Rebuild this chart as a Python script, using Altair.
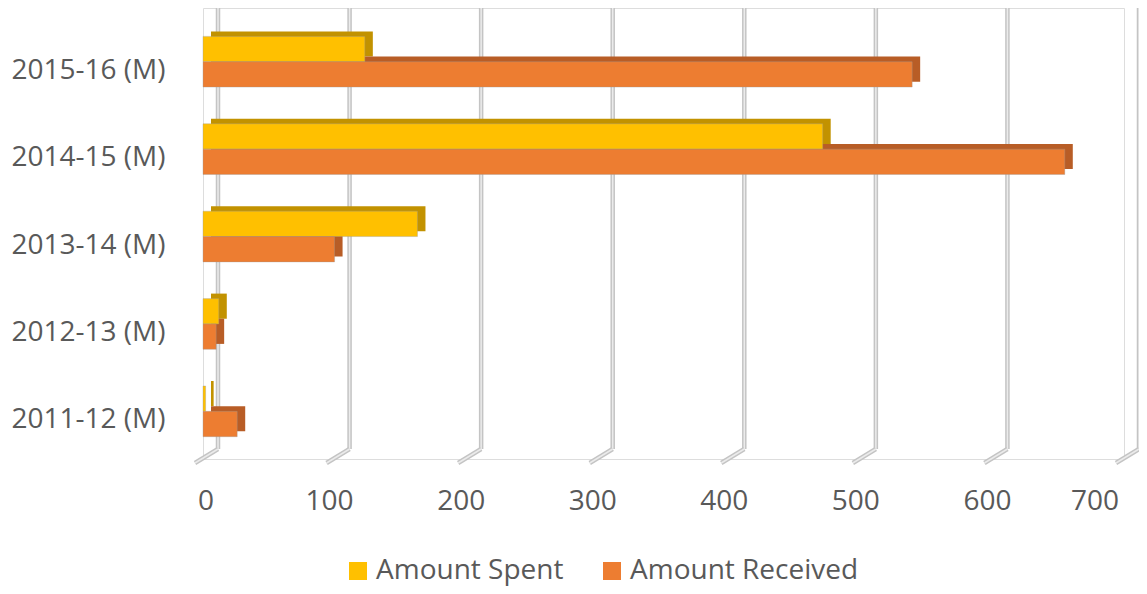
import altair as alt
import pandas as pd

categories = ["2015-16 (M)", "2014-15 (M)", "2013-14 (M)", "2012-13 (M)", "2011-12 (M)"]
spent = [123, 471, 163, 12, 2]
received = [539, 655, 100, 10, 26]
series_names = ["Amount Spent", "Amount Received"]
colors = ["#FFC000", "#ED7D31"]
dark_colors = ["#C29200", "#B85D26"]
x_ticks = [0, 100, 200, 300, 400, 500, 600, 700]

rows = []
for c, s, r in zip(categories, spent, received):
    rows.append({"cat": c, "series": series_names[0], "value": s})
    rows.append({"cat": c, "series": series_names[1], "value": r})
df = pd.DataFrame(rows)
ticks_df = pd.DataFrame({"tick": x_ticks})

FONT = "Open Sans"
GRAY = "#595959"

y_enc = alt.Y("cat:N", sort=categories, title=None,
              scale=alt.Scale(paddingInner=0.42, paddingOuter=0.29, align=0.56),
              axis=alt.Axis(labelFont=FONT, labelFontSize=28, labelColor=GRAY,
                            labelPadding=38, ticks=False, domain=False, grid=False,
                            labelOffset=9))
x_scale = alt.Scale(domain=[0, 700], nice=False)
x_enc = alt.X("value:Q", title=None, scale=x_scale,
              axis=alt.Axis(values=x_ticks, labelFont=FONT, labelFontSize=28,
                            labelColor=GRAY, ticks=False, domain=False, grid=False,
                            labelPadding=28, labelOffset=-5.5))

grid_outer = alt.Chart(ticks_df).mark_rule(color="#C4C4C4", strokeWidth=4.5, xOffset=15).encode(
    x=alt.X("tick:Q", scale=x_scale, title=None),
    y=alt.value(-8), y2=alt.value(441))
grid_inner = alt.Chart(ticks_df).mark_rule(color="#EBEBEB", strokeWidth=1.5, xOffset=15).encode(
    x=alt.X("tick:Q", scale=x_scale, title=None),
    y=alt.value(-8), y2=alt.value(441))
diag_outer = alt.Chart(ticks_df).mark_rule(color="#C4C4C4", strokeWidth=4.5, xOffset=15, x2Offset=-8).encode(
    x=alt.X("tick:Q", scale=x_scale, title=None), x2="tick:Q",
    y=alt.value(441), y2=alt.value(455))
diag_inner = alt.Chart(ticks_df).mark_rule(color="#EBEBEB", strokeWidth=1.5, xOffset=15, x2Offset=-8).encode(
    x=alt.X("tick:Q", scale=x_scale, title=None), x2="tick:Q",
    y=alt.value(441), y2=alt.value(455))

shadow = alt.Chart(df).mark_bar(strokeWidth=0, xOffset=8, x2Offset=8).encode(
    y=y_enc,
    yOffset=alt.YOffset("series:N", sort=series_names,
                        scale=alt.Scale(range=[-5, 45.3])),
    x=x_enc,
    color=alt.Color("series:N", sort=series_names,
                    scale=alt.Scale(domain=series_names, range=dark_colors),
                    legend=None),
)

bars = alt.Chart(df).mark_bar(stroke="#9A9A9A", strokeWidth=0.6, strokeOpacity=0.6).encode(
    y=y_enc,
    yOffset=alt.YOffset("series:N", sort=series_names),
    x=x_enc,
    color=alt.Color("series:N", sort=series_names,
                    scale=alt.Scale(domain=series_names, range=colors),
                    legend=alt.Legend(title=None, orient="none", direction="horizontal",
                                      legendX=141, legendY=549,
                                      symbolType="square", symbolSize=324,
                                      symbolStrokeWidth=0, labelLimit=400,
                                      labelFont=FONT, labelFontSize=28, labelColor=GRAY,
                                      labelOffset=4, columnPadding=34, padding=0)),
)

chart = alt.layer(grid_outer, grid_inner, diag_outer, diag_inner, shadow, bars).resolve_scale(
    color="independent", yOffset="independent"
).properties(
    width=921, height=451,
    autosize=alt.AutoSizeParams(type="none"),
    padding={"left": 195, "top": 0, "right": 15, "bottom": 127},
).configure_view(stroke=None).configure(background="white")

chart.save("out.html", embed_options={"renderer": "svg", "actions": False})
